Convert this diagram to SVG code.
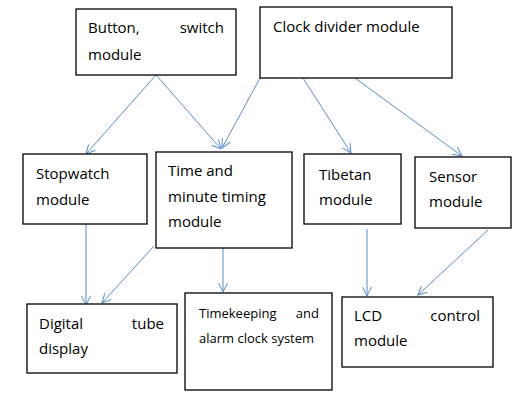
<svg xmlns="http://www.w3.org/2000/svg" width="523" height="403" viewBox="0 0 523 403">
<defs>
<marker id="arr" viewBox="0 0 10 10" refX="9" refY="5" markerWidth="10" markerHeight="10" markerUnits="userSpaceOnUse" orient="auto">
<path d="M0,0.5 L9,5 L0,9.5" fill="none" stroke="#5b8ec4" stroke-width="1"/>
</marker>
<style>
.box{fill:#ffffff;stroke:#000000;stroke-width:1.3}
.t{font-family:"Open Sans","Noto Sans","Liberation Sans",sans-serif;font-size:15px;fill:#000000}
.s{font-family:"Open Sans","Noto Sans","Liberation Sans",sans-serif;font-size:13px;fill:#000000}
.c{stroke:#5b8ec4;stroke-width:1;fill:none;marker-end:url(#arr)}
</style>
</defs>
<rect width="523" height="403" fill="#ffffff"/>
<g id="connectors">
<line class="c" x1="156" y1="75" x2="86" y2="154"/>
<line class="c" x1="156" y1="75" x2="221" y2="149"/>
<line class="c" x1="260" y1="78" x2="222" y2="148"/>
<line class="c" x1="303" y1="78" x2="351" y2="153"/>
<line class="c" x1="355" y1="78" x2="462" y2="156"/>
<line class="c" x1="86" y1="224" x2="86" y2="305"/>
<line class="c" x1="154" y1="246" x2="102" y2="303"/>
<line class="c" x1="223" y1="248" x2="223" y2="292"/>
<line class="c" x1="367" y1="229" x2="367" y2="296"/>
<line class="c" x1="488" y1="230" x2="418" y2="295"/>
</g>
<g id="button">
<rect class="box" x="76" y="9" width="160" height="66"/>
<text class="t" x="88" y="33">Button,</text>
<text class="t" x="224" y="33" text-anchor="end">switch</text>
<text class="t" x="88" y="60">module</text>
</g>
<g id="clock">
<rect class="box" x="260" y="7" width="192" height="71"/>
<text class="t" x="273" y="32">Clock divider module</text>
</g>
<g id="stopwatch">
<rect class="box" x="23" y="154" width="124" height="70"/>
<text class="t" x="36" y="179">Stopwatch</text>
<text class="t" x="36" y="205">module</text>
</g>
<g id="time">
<rect class="box" x="156" y="152" width="136" height="96"/>
<text class="t" x="168" y="176">Time and</text>
<text class="t" x="168" y="202">minute timing</text>
<text class="t" x="168" y="227">module</text>
</g>
<g id="tibetan">
<rect class="box" x="304" y="154" width="97" height="70"/>
<text class="t" x="319" y="180">Tibetan</text>
<text class="t" x="319" y="205">module</text>
</g>
<g id="sensor">
<rect class="box" x="415" y="157" width="96" height="71"/>
<text class="t" x="429" y="182">Sensor</text>
<text class="t" x="429" y="207">module</text>
</g>
<g id="digital">
<rect class="box" x="27" y="304" width="150" height="69"/>
<text class="t" x="39" y="329">Digital</text>
<text class="t" x="164" y="329" text-anchor="end">tube</text>
<text class="t" x="39" y="354">display</text>
</g>
<g id="timekeeping">
<rect class="box" x="185" y="293" width="147" height="97"/>
<text class="s" x="199" y="318">Timekeeping</text>
<text class="s" x="319" y="318" text-anchor="end">and</text>
<text class="s" x="199" y="343">alarm clock system</text>
</g>
<g id="lcd">
<rect class="box" x="342" y="297" width="151" height="70"/>
<text class="t" x="354" y="321">LCD</text>
<text class="t" x="480" y="321" text-anchor="end">control</text>
<text class="t" x="354" y="346">module</text>
</g>
</svg>
